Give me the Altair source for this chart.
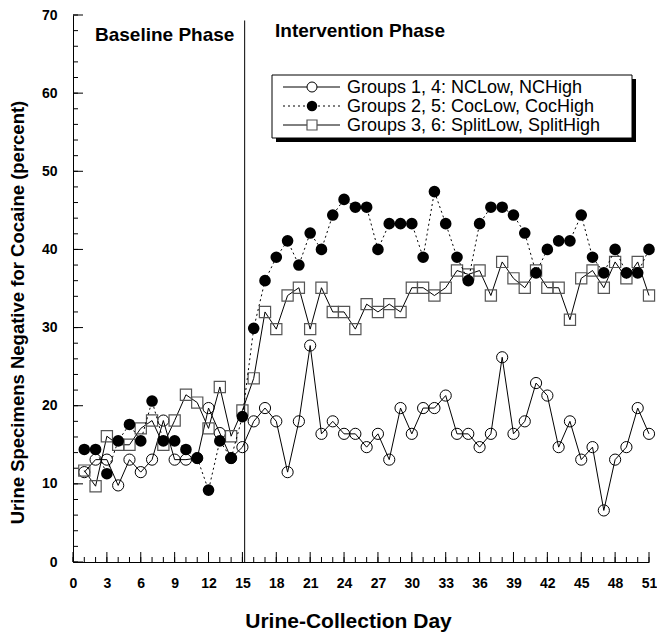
import altair as alt
import pandas as pd

# ---------------- data ----------------
days = list(range(1, 52))
nc_pct = [11.5, 13.1, 13.1, 9.8, 13.1, 11.5, 13.1, 18.1, 13.1, 13.1, 13.3, 19.7, 16.5, 13.3, 14.7,
          18.0, 19.7, 18.0, 11.5, 18.0, 27.7, 16.4, 18.0, 16.4, 16.4, 14.7, 16.4, 13.1, 19.7, 16.4,
          19.7, 19.7, 21.3, 16.4,
          16.4, 14.7, 16.4, 26.2, 16.4, 18.0, 22.9, 21.3, 14.7, 18.0, 13.1, 14.7, 6.6, 13.1, 14.7,
          19.7, 16.4]
coc_pct = [14.4, 14.4, 11.3, 15.5, 17.6, 15.5, 20.6, 15.5, 15.5, 14.4, 13.3, 9.2, 15.5, 13.3, 18.6,
           29.9, 36.0, 39.0, 41.1, 38.0, 42.1, 40.0, 44.4, 46.4, 45.4, 45.4, 40.0, 43.3, 43.3, 43.3,
           39.0, 47.4, 43.3, 39.0,
           36.0, 43.3, 45.4, 45.4, 44.4, 42.1, 37.0, 40.0, 41.1, 41.1, 44.4, 39.0, 37.0, 40.0, 37.0,
           37.0, 40.0]
split_pct = [11.7, 9.7, 16.1, 15.0, 15.0, 17.1, 18.1, 15.0, 18.1, 21.4, 20.4, 17.1, 22.4, 16.1, 19.4,
             23.5, 32.0, 29.8, 34.1, 35.1, 29.8, 35.1, 32.0, 32.0, 29.8, 33.0, 32.0, 33.0, 32.0, 35.1,
             35.1, 34.1, 35.1, 37.3,
             36.8, 37.3, 34.1, 38.4, 36.3, 35.1, 37.3, 35.1, 35.1, 31.0, 36.3, 37.3, 35.1, 38.4, 36.3,
             38.4, 34.1]
series_labels = ["Groups 1, 4: NCLow, NCHigh",
                 "Groups 2, 5: CocLow, CocHigh",
                 "Groups 3, 6: SplitLow, SplitHigh"]
phase_labels = ["Baseline Phase", "Intervention Phase"]
phase_change_day = [15.2]
phase_line_top = [69.3]
x_tick_labels = list(range(0, 52, 3))
x_minor_ticks = list(range(0, 52))
y_tick_labels = list(range(0, 71, 10))
y_minor_ticks = list(range(0, 71, 2))

# ---------------- layout ----------------
W, H = 576, 547
FONT = "Liberation Sans"

df = pd.DataFrame({"day": days, "nc": nc_pct, "coc": coc_pct, "split": split_pct})

xscale = alt.Scale(domain=[0, 51], nice=False, zero=False)
yscale = alt.Scale(domain=[0, 70], nice=False, zero=True)

x_axis = alt.Axis(values=x_tick_labels, ticks=False, grid=False, labelFlush=False,
                  labelFont=FONT, labelFontSize=14, labelFontWeight="bold", labelColor="black",
                  labelPadding=14, domainColor="black", domainWidth=1,
                  title="Urine-Collection Day", titleFont=FONT, titleFontSize=21,
                  titleFontWeight="bold", titleColor="black", titleX=275, titleY=59,
                  titleBaseline="middle", titleAlign="center")
y_axis = alt.Axis(values=y_tick_labels, ticks=False, grid=False, labelFlush=False,
                  labelFont=FONT, labelFontSize=14, labelFontWeight="bold", labelColor="black",
                  labelPadding=16, domainColor="black", domainWidth=1,
                  title="Urine Specimens Negative for Cocaine (percent)", titleFont=FONT,
                  titleFontSize=18.5, titleFontWeight="bold", titleColor="black",
                  titleX=-56, titleY=297, titleAngle=270, titleBaseline="middle",
                  titleAlign="center")


def X(field):
    return alt.X(field, scale=xscale, axis=x_axis)


def Y(field):
    return alt.Y(field, scale=yscale, axis=y_axis)


base = alt.Chart(df)

nc_line = base.mark_line(color="black", strokeWidth=1).encode(x=X("day:Q"), y=Y("nc:Q"))
nc_pts = base.mark_point(shape="circle", filled=False, size=125, color="black",
                         strokeWidth=1, opacity=1).encode(x=X("day:Q"), y=Y("nc:Q"))

split_line = base.mark_line(color="black", strokeWidth=1).encode(x=X("day:Q"), y=Y("split:Q"))
split_pts = base.mark_point(shape="square", filled=False, size=125, color="#555555",
                            strokeWidth=1.2, opacity=1).encode(x=X("day:Q"), y=Y("split:Q"))

coc_line = base.mark_line(color="black", strokeWidth=1, strokeDash=[2, 3]).encode(
    x=X("day:Q"), y=Y("coc:Q"))
coc_pts = base.mark_circle(size=135, color="black", opacity=1).encode(x=X("day:Q"), y=Y("coc:Q"))

# inward tick marks
xt_major = alt.Chart(pd.DataFrame({"day": x_tick_labels})).mark_rule(color="black", strokeWidth=1).encode(
    x=X("day:Q"), y=alt.value(H), y2=alt.value(H - 10))
xt_minor = alt.Chart(pd.DataFrame({"day": x_minor_ticks})).mark_rule(color="black", strokeWidth=1).encode(
    x=X("day:Q"), y=alt.value(H), y2=alt.value(H - 5))
yt_major = alt.Chart(pd.DataFrame({"nc": y_tick_labels})).mark_rule(color="black", strokeWidth=1).encode(
    y=Y("nc:Q"), x=alt.value(0), x2=alt.value(10))
yt_minor = alt.Chart(pd.DataFrame({"nc": y_minor_ticks})).mark_rule(color="black", strokeWidth=1).encode(
    y=Y("nc:Q"), x=alt.value(0), x2=alt.value(5))

# phase separator
phase_df = pd.DataFrame({"day": phase_change_day, "nc": phase_line_top, "bot": [0]})
phase_line = alt.Chart(phase_df).mark_rule(color="black", strokeWidth=1).encode(
    x=X("day:Q"), y=Y("nc:Q"), y2="bot:Q")

one = pd.DataFrame({"k": [0]})
phase_txt1 = alt.Chart(one).mark_text(text=phase_labels[0], font=FONT, fontSize=19,
                                      fontWeight="bold", align="left", baseline="middle",
                                      color="black").encode(x=alt.value(22), y=alt.value(20))
phase_txt2 = alt.Chart(one).mark_text(text=phase_labels[1], font=FONT, fontSize=19,
                                      fontWeight="bold", align="left", baseline="middle",
                                      color="black").encode(x=alt.value(202), y=alt.value(16))

# legend box
shadow = alt.Chart(one).mark_rect(color="black").encode(
    x=alt.value(203), x2=alt.value(563), y=alt.value(64), y2=alt.value(127))
box = alt.Chart(one).mark_rect(fill="white", stroke="black", strokeWidth=1).encode(
    x=alt.value(199), x2=alt.value(559), y=alt.value(60), y2=alt.value(123))

legend_layers = []
rows_y = [72, 91, 110]
for i, lab in enumerate(series_labels):
    ry = rows_y[i]
    dash = [2, 3] if i == 1 else [1, 0]
    legend_layers.append(alt.Chart(one).mark_rule(color="black", strokeWidth=1, strokeDash=dash).encode(
        x=alt.value(210), x2=alt.value(267), y=alt.value(ry)))
    if i == 0:
        mk = alt.Chart(one).mark_point(shape="circle", filled=True, fill="white", stroke="black",
                                       size=100, strokeWidth=1, opacity=1)
    elif i == 1:
        mk = alt.Chart(one).mark_circle(size=110, color="black", opacity=1)
    else:
        mk = alt.Chart(one).mark_point(shape="square", filled=True, fill="white", stroke="#555555",
                                       size=100, strokeWidth=1.2, opacity=1)
    legend_layers.append(mk.encode(x=alt.value(239), y=alt.value(ry)))
    legend_layers.append(alt.Chart(one).mark_text(text=lab, font=FONT, fontSize=18,
                                                  align="left", baseline="middle",
                                                  color="black").encode(
        x=alt.value(274), y=alt.value(ry + 1)))

chart = alt.layer(
    nc_line, xt_major, xt_minor, yt_major, yt_minor, phase_line,
    nc_pts, split_line, split_pts, coc_line, coc_pts,
    phase_txt1, phase_txt2, shadow, box, *legend_layers
).properties(
    width=W, height=H,
    autosize=alt.AutoSizeParams(type="none"),
    padding={"left": 65, "top": 7, "right": 8, "bottom": 70},
    background="white",
).configure_view(stroke=None)

chart.save("out.html", embed_options={"renderer": "svg", "actions": False})
